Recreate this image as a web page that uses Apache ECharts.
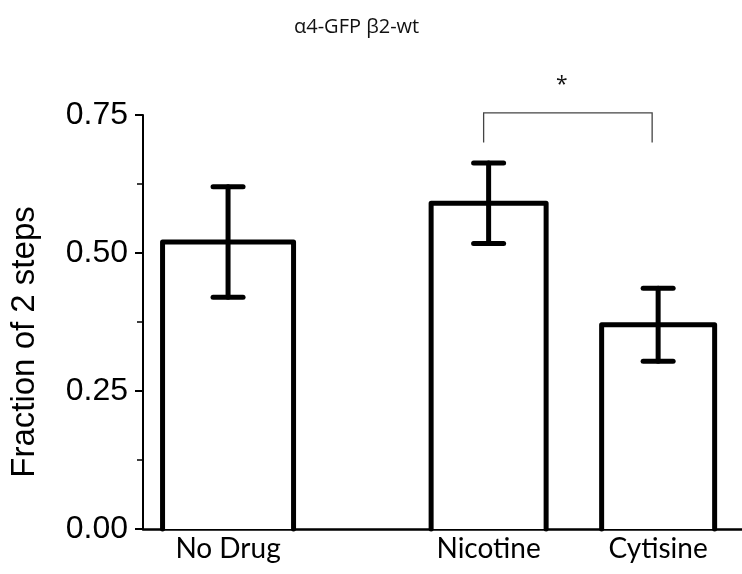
<!DOCTYPE html>
<html>
<head>
  <meta charset="UTF-8">
  <title>α4-GFP β2-wt</title>
  <style>
    html, body { margin: 0; padding: 0; background: #fff; }
    #chart { width: 742px; height: 574px; }
  </style>
  <script src="https://cdn.jsdelivr.net/npm/echarts@6/dist/echarts.min.js"></script>
</head>
<body>
<div id="chart"></div>
<script>
  // data
  var categories = ['No Drug', 'Nicotine', 'Cytisine'];
  var means = [0.52, 0.59, 0.37];
  var errors = [0.10, 0.073, 0.066];
  var yTicks = [0, 0.25, 0.5, 0.75];

  // layout: bar centres on a 0..10 x scale, bar widths in px
  var xPos = [1.42, 5.77, 8.6];
  var barWidths = [131, 115, 113];

  var myChart = echarts.init(document.getElementById('chart'));

  var barData = categories.map(function (c, i) {
    return [xPos[i], means[i], errors[i]];
  });

  var option = {
    animation: false,
    title: {
      text: 'α4-GFP β2-wt',
      left: 289,
      top: 12,
      textStyle: { fontFamily: 'Open Sans', fontSize: 20, fontWeight: 'normal', color: '#111' }
    },
    grid: { left: 143, right: 0, top: 115, bottom: 45, containLabel: false },
    xAxis: {
      type: 'value',
      min: 0,
      max: 10,
      splitLine: { show: false },
      axisTick: { show: false },
      axisLine: { show: true, onZero: false, lineStyle: { color: '#000', width: 2.5 } },
      axisLabel: {
        customValues: xPos,
        formatter: function (v) { return categories[xPos.indexOf(v)] || ''; },
        fontFamily: 'Lato',
        fontSize: 28,
        color: '#000',
        margin: 6
      }
    },
    yAxis: {
      type: 'value',
      min: yTicks[0],
      max: yTicks[yTicks.length - 1],
      interval: 0.25,
      splitLine: { show: false },
      axisLine: { show: true, lineStyle: { color: '#000', width: 2 } },
      axisTick: { show: true, length: 8, lineStyle: { color: '#000', width: 2 } },
      minorTick: { show: true, splitNumber: 2, length: 6, lineStyle: { color: '#000', width: 1.5 } },
      axisLabel: {
        formatter: function (v) { return v.toFixed(2); },
        fontFamily: 'Liberation Sans',
        fontSize: 32,
        color: '#000',
        margin: 15
      }
    },
    graphic: [{
      type: 'text',
      x: 25,
      y: 342,
      rotation: Math.PI / 2,
      style: {
        text: 'Fraction of 2 steps',
        fontFamily: 'Liberation Sans',
        fontSize: 33,
        fill: '#000',
        textAlign: 'center',
        textVerticalAlign: 'middle'
      }
    }],
    series: [
      {
        type: 'custom',
        data: barData,
        renderItem: function (params, api) {
          var x = api.value(0), v = api.value(1), e = api.value(2);
          var base = api.coord([x, 0]);
          var top = api.coord([x, v]);
          var hi = api.coord([x, v + e]);
          var lo = api.coord([x, v - e]);
          var w = barWidths[params.dataIndex];
          var l = base[0] - w / 2, r = base[0] + w / 2;
          var cap = 15;
          var lineStyle = { stroke: '#000', lineWidth: 5, lineCap: 'round', lineJoin: 'round', fill: null };
          return {
            type: 'group',
            children: [
              { type: 'rect', shape: { x: l, y: top[1], width: w, height: base[1] - top[1] }, style: { fill: '#fff' } },
              { type: 'polyline', shape: { points: [[l, base[1]], [l, top[1]], [r, top[1]], [r, base[1]]] }, style: lineStyle },
              { type: 'line', shape: { x1: hi[0], y1: hi[1], x2: lo[0], y2: lo[1] }, style: lineStyle },
              { type: 'line', shape: { x1: hi[0] - cap, y1: hi[1], x2: hi[0] + cap, y2: hi[1] }, style: lineStyle },
              { type: 'line', shape: { x1: lo[0] - cap, y1: lo[1], x2: lo[0] + cap, y2: lo[1] }, style: lineStyle }
            ]
          };
        }
      },
      {
        // significance bracket between Nicotine and Cytisine
        type: 'custom',
        data: [[xPos[1], xPos[2]]],
        renderItem: function (params, api) {
          var a = api.coord([api.value(0), 0.754]);
          var b = api.coord([api.value(1), 0.754]);
          var foot = api.coord([api.value(0), 0.70]);
          var x1 = a[0] - 5, x2 = b[0] - 6;
          var star = api.coord([api.value(0), 0.805]);
          return {
            type: 'group',
            children: [
              { type: 'polyline', shape: { points: [[x1, foot[1]], [x1, a[1]], [x2, a[1]], [x2, foot[1]]] },
                style: { stroke: '#444', lineWidth: 1.3, fill: null } },
              { type: 'text', x: (x1 + x2) / 2 - 6, y: star[1],
                style: { text: '*', fontFamily: 'Open Sans', fontSize: 21, fill: '#111', textAlign: 'center', textVerticalAlign: 'middle' } }
            ]
          };
        }
      }
    ]
  };

  myChart.setOption(option);
</script>
</body>
</html>
